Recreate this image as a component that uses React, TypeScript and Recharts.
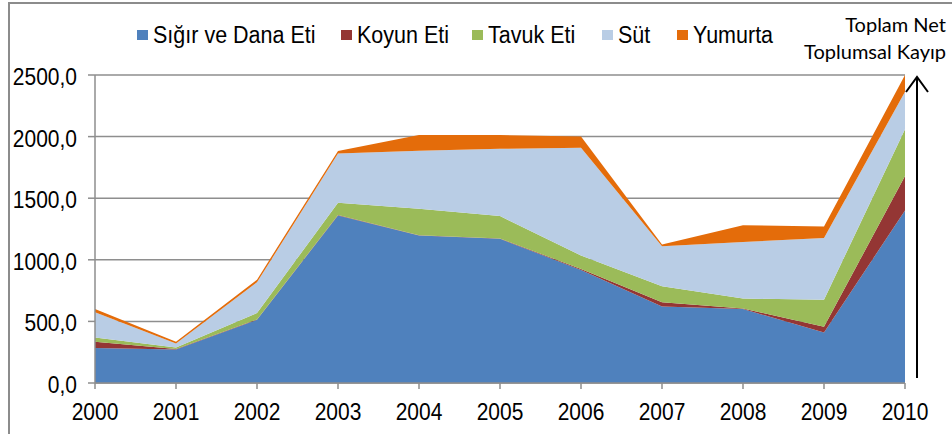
import { Area, AreaChart, CartesianGrid, XAxis, YAxis } from "recharts";

const years = ["2000", "2001", "2002", "2003", "2004", "2005", "2006", "2007", "2008", "2009", "2010"];
const sigir = [285, 272, 513, 1360, 1198, 1170, 918, 620, 600, 410, 1400];
const koyun = [50, 3, 3, 3, 2, 3, 8, 35, 5, 46, 280];
const tavuk = [35, 13, 52, 100, 215, 182, 109, 130, 80, 220, 380];
const sut = [204, 32, 249, 400, 470, 546, 875, 326, 460, 500, 305];
const yumurta = [27, 14, 22, 21, 128, 112, 90, 14, 136, 95, 135];
const yTicks = [0, 500, 1000, 1500, 2000, 2500];

const series = [
  { key: "sigir", name: "Sığır ve Dana Eti", color: "#4f81bd", values: sigir },
  { key: "koyun", name: "Koyun Eti", color: "#943634", values: koyun },
  { key: "tavuk", name: "Tavuk Eti", color: "#9bbb59", values: tavuk },
  { key: "sut", name: "Süt", color: "#b9cde5", values: sut },
  { key: "yumurta", name: "Yumurta", color: "#e46c0a", values: yumurta },
];

// x of each legend swatch, as in the original
const legendX = [137, 341, 472, 602, 677];

const data = years.map((year, i) => {
  const row: Record<string, string | number> = { year };
  series.forEach((s) => (row[s.key] = s.values[i]));
  return row;
});

const font = "'Liberation Sans', Arial, sans-serif";

function XTick(props: any) {
  const { x, y, payload } = props;
  return (
    <g transform={`translate(${x},${y + 21}) scale(1,1.15)`}>
      <text textAnchor="middle" dominantBaseline="central" fontFamily={font} fontSize={21} fill="#000">
        {payload.value}
      </text>
    </g>
  );
}

function YTick(props: any) {
  const { x, y, payload } = props;
  return (
    <g transform={`translate(${x - 9},${y + 2}) scale(1,1.15)`}>
      <text textAnchor="end" dominantBaseline="central" fontFamily={font} fontSize={21} fill="#000">
        {Number(payload.value).toFixed(1).replace(".", ",")}
      </text>
    </g>
  );
}

export default function App() {
  return (
    <div style={{ position: "fixed", left: 0, top: 0, width: 952, height: 434, background: "#fff", overflow: "hidden" }}>
      <div
        style={{
          position: "absolute",
          left: 8,
          top: 2,
          width: 960,
          height: 430,
          borderLeft: "2px solid #8c8c8c",
          borderTop: "2px solid #8c8c8c",
          borderBottom: "1px solid #d9d9d9",
        }}
      />
      <AreaChart width={952} height={434} data={data} margin={{ top: 75, right: 47, bottom: 21, left: 0 }}>
        <CartesianGrid vertical={false} stroke="#8e8e8e" strokeWidth={1.5} />
        <XAxis dataKey="year" height={30} stroke="#8e8e8e" strokeWidth={1.5} tickSize={6} interval={0} tick={XTick} />
        <YAxis
          width={95}
          domain={[0, 2500]}
          ticks={yTicks}
          tickSize={7}
          stroke="#8e8e8e"
          strokeWidth={1.5}
          tick={YTick}
        />
        {series.map((s) => (
          <Area
            key={s.key}
            dataKey={s.key}
            name={s.name}
            stackId="a"
            type="linear"
            stroke="none"
            fill={s.color}
            fillOpacity={1}
            isAnimationActive={false}
          />
        ))}
      </AreaChart>
      {series.map((s, i) => (
        <div
          key={s.key}
          style={{
            position: "absolute",
            left: legendX[i],
            top: 24,
            display: "flex",
            alignItems: "center",
            fontFamily: font,
            fontSize: 21.5,
            color: "#000",
            whiteSpace: "nowrap",
          }}
        >
          <span style={{ width: 11, height: 10, background: s.color, marginRight: 5 }} />
          <span style={{ display: "inline-block", transform: "scaleY(1.15)", lineHeight: "22px" }}>{s.name}</span>
        </div>
      ))}
      <svg width={952} height={434} style={{ position: "absolute", left: 0, top: 0, pointerEvents: "none" }}>
        <text x={946} y={32} textAnchor="end" fontFamily="Lato, sans-serif" fontSize={20} fill="#000">
          Toplam Net
        </text>
        <text x={946} y={59} textAnchor="end" fontFamily="Lato, sans-serif" fontSize={20} fill="#000">
          Toplumsal Kayıp
        </text>
        <line x1={917} y1={378} x2={917} y2={77} stroke="#000" strokeWidth={2} />
        <polyline points="906,92 917,77 928,92" fill="none" stroke="#000" strokeWidth={2} />
      </svg>
    </div>
  );
}
